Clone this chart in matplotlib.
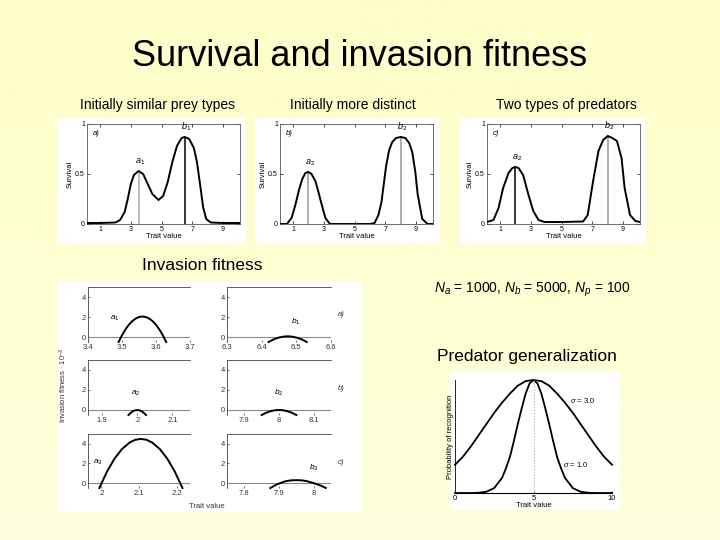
import numpy as np
import matplotlib
matplotlib.use("Agg")
import matplotlib.pyplot as plt
from matplotlib.patches import Rectangle

plt.rcParams['font.family'] = ['Liberation Sans', 'DejaVu Sans']
plt.rcParams['mathtext.fontset'] = 'custom'
plt.rcParams['mathtext.rm'] = 'Liberation Sans'
plt.rcParams['mathtext.it'] = 'Liberation Sans:italic'

W, H = 720, 540

# ---- survival curves ----
surv1_x = [0.15, 1, 2, 2.3, 2.6, 2.8, 3.0, 3.2, 3.5, 3.8, 4.1, 4.4, 4.8, 5.1, 5.4,
           5.7, 6.0, 6.3, 6.5, 6.8, 7.1, 7.3, 7.5, 7.7, 7.9, 8.2, 9, 10.1]
surv1_y = [0.01, 0.01, 0.015, 0.04, 0.12, 0.25, 0.40, 0.49, 0.53, 0.50, 0.40, 0.30,
           0.24, 0.28, 0.42, 0.62, 0.78, 0.86, 0.87, 0.85, 0.76, 0.62, 0.40, 0.17,
           0.05, 0.015, 0.01, 0.01]

surv2_x = [0.15, 0.6, 0.9, 1.15, 1.4, 1.6, 1.8, 2.0, 2.2, 2.45, 2.65, 2.8, 3.1, 3.4,
           4, 5, 6, 6.3, 6.55, 6.75, 7.05, 7.25, 7.45, 7.7, 8.0, 8.3, 8.55, 8.75,
           8.95, 9.1, 9.4, 9.75, 10.1]
surv2_y = [0.0, 0.0, 0.06, 0.19, 0.35, 0.45, 0.51, 0.52, 0.50, 0.43, 0.32, 0.23, 0.06,
           0.0, 0.0, 0.0, 0.0, 0.01, 0.09, 0.22, 0.58, 0.74, 0.82, 0.86, 0.87, 0.86,
           0.81, 0.72, 0.52, 0.30, 0.05, 0.0, 0.0]

surv3_x = [0.15, 0.57, 0.9, 1.2, 1.55, 1.8, 2.0, 2.2, 2.5, 2.85, 3.16, 3.5, 3.9, 5,
           6.4, 6.7, 7.05, 7.4, 7.7, 8.0, 8.3, 8.6, 8.9, 9.1, 9.45, 9.8, 10.1]
surv3_y = [0.02, 0.04, 0.16, 0.36, 0.51, 0.56, 0.57, 0.56, 0.49, 0.29, 0.13, 0.04,
           0.02, 0.02, 0.025, 0.09, 0.43, 0.73, 0.84, 0.88, 0.86, 0.83, 0.66, 0.36,
           0.09, 0.03, 0.02]

surv_peaks = [(3.5, 0.53, 6.5, 0.87), (2.0, 0.52, 8.0, 0.87), (2.0, 0.57, 8.0, 0.88)]
surv_tags = ['a)', 'b)', 'c)']
surv_names = [('a_1', 'b_1'), ('a_2', 'b_2'), ('a_2', 'b_2')]
surv_line_cols = [('#aaaaaa', 'black'), ('#999999', '#999999'), ('black', '#999999')]
headings = ['Initially similar prey types', 'Initially more distinct', 'Two types of predators']

# ---- invasion fitness (x 10^-3) ----
inv_a1_x = [3.49, 3.50, 3.51, 3.52, 3.53, 3.54, 3.55, 3.56, 3.57, 3.58, 3.59, 3.60, 3.61, 3.62, 3.63]
inv_a1_y = [-0.5, 0.18, 0.75, 1.22, 1.58, 1.84, 2.0, 2.05, 2.0, 1.84, 1.58, 1.22, 0.75, 0.18, -0.5]
inv_b1_x = [6.42, 6.435, 6.45, 6.465, 6.475, 6.485, 6.50, 6.515, 6.53]
inv_b1_y = [-0.5, -0.23, -0.05, 0.05, 0.07, 0.05, -0.05, -0.23, -0.5]
inv_a2_x = [1.975, 1.985, 1.993, 2.0, 2.007, 2.015, 2.025]
inv_a2_y = [-0.5, -0.18, -0.04, 0.0, -0.04, -0.18, -0.5]
inv_b2_x = [7.95, 7.965, 7.98, 7.99, 8.0, 8.01, 8.02, 8.035, 8.05]
inv_b2_y = [-0.5, -0.245, -0.08, -0.02, 0.0, -0.02, -0.08, -0.245, -0.5]
inv_a3_x = [1.995, 2.015, 2.035, 2.055, 2.075, 2.09, 2.105, 2.12, 2.135, 2.155, 2.175, 2.195, 2.215]
inv_a3_y = [-0.5, 1.15, 2.48, 3.47, 4.13, 4.41, 4.5, 4.41, 4.13, 3.47, 2.48, 1.15, -0.5]
inv_b3_x = [7.875, 7.89, 7.905, 7.92, 7.935, 7.95, 7.965, 7.98, 8.0, 8.02, 8.035]
inv_b3_y = [-0.5, -0.2, 0.02, 0.2, 0.28, 0.3, 0.28, 0.2, 0.0, -0.25, -0.5]

inv_curves = [[(inv_a1_x, inv_a1_y), (inv_b1_x, inv_b1_y)],
              [(inv_a2_x, inv_a2_y), (inv_b2_x, inv_b2_y)],
              [(inv_a3_x, inv_a3_y), (inv_b3_x, inv_b3_y)]]
inv_xlims = [[(3.4, 3.7), (6.3, 6.6)],
             [(1.86, 2.15), (7.85, 8.15)],
             [(1.965, 2.235), (7.75, 8.05)]]
inv_ticks = [[[3.4, 3.5, 3.6, 3.7], [6.3, 6.4, 6.5, 6.6]],
             [[1.9, 2.0, 2.1], [7.9, 8.0, 8.1]],
             [[2.0, 2.1, 2.2], [7.8, 7.9, 8.0]]]
inv_ticklabels = [[['3.4', '3.5', '3.6', '3.7'], ['6.3', '6.4', '6.5', '6.6']],
                  [['1.9', '2', '2.1'], ['7.9', '8', '8.1']],
                  [['2', '2.1', '2.2'], ['7.8', '7.9', '8']]]
inv_names = [[('a_1', 3.48, 1.4), ('b_1', 6.5, 1.0)],
             [('a_2', 1.997, 1.2), ('b_2', 8.0, 1.2)],
             [('a_3', 1.99, 1.6), ('b_3', 8.0, 1.0)]]
inv_tags = ['a)', 'b)', 'c)']

# ---- predator recognition ----
sig3_x = [0, 0.5, 1, 1.5, 2, 2.5, 3, 3.5, 4, 4.5, 5, 5.5, 6, 6.5, 7, 7.5, 8, 8.5, 9, 9.5, 10]
sig3_y = [0.25, 0.32, 0.41, 0.51, 0.61, 0.71, 0.80, 0.88, 0.95, 0.99, 1.0,
          0.99, 0.95, 0.88, 0.80, 0.71, 0.61, 0.51, 0.41, 0.32, 0.25]
sig1_x = [0, 1, 1.5, 2, 2.5, 3, 3.25, 3.5, 3.75, 4, 4.25, 4.5, 4.75, 5,
          5.25, 5.5, 5.75, 6, 6.25, 6.5, 6.75, 7, 7.5, 8, 8.5, 9, 10]
sig1_y = [0, 0, 0.002, 0.011, 0.044, 0.135, 0.22, 0.32, 0.46, 0.61, 0.75, 0.88, 0.97, 1.0,
          0.97, 0.88, 0.75, 0.61, 0.46, 0.32, 0.22, 0.135, 0.044, 0.011, 0.002, 0, 0]


def box(x0, y0, x1, y1):
    return [x0 / W, 1 - y1 / H, (x1 - x0) / W, (y1 - y0) / H]


fig = plt.figure(figsize=(7.2, 5.4), dpi=100)

# slide background
bg = fig.add_axes([0, 0, 1, 1], zorder=-3)
grad = np.linspace(0, 1, 256).reshape(-1, 1)
bg.imshow(grad, aspect='auto', cmap=matplotlib.colors.LinearSegmentedColormap.from_list(
    'slide', ['#fefec9', '#fefedd']), extent=[0, 1, 0, 1])
bg.axis('off')

for (x0, y0, x1, y1) in [(58, 118, 245, 243), (255, 118, 440, 243), (460, 118, 645, 243),
                         (58, 282, 362, 512), (450, 372, 620, 510)]:
    fig.add_artist(Rectangle((x0 / W, 1 - y1 / H), (x1 - x0) / W, (y1 - y0) / H,
                             transform=fig.transFigure, facecolor='white',
                             edgecolor='none', zorder=-2))

fig.text(360 / W, 1 - 57 / H, 'Survival and invasion fitness', fontsize=26,
         ha='center', va='center')

# survival panels
surv_data = [(surv1_x, surv1_y), (surv2_x, surv2_y), (surv3_x, surv3_y)]
left_edges = [87, 280, 487]
head_x = [158, 353, 566]
for i in range(3):
    fig.text(head_x[i] / W, 1 - 105 / H, headings[i], fontsize=10, ha='center', va='center')
    ax = fig.add_axes(box(left_edges[i], 124, left_edges[i] + 153, 224))
    xs, ys = surv_data[i]
    ax.plot(xs, ys, color='black', lw=1.4, zorder=3)
    ax_, ay, bx, by = surv_peaks[i]
    ax.plot([ax_, ax_], [0, ay], color=surv_line_cols[i][0], lw=1.1, zorder=2)
    ax.plot([bx, bx], [0, by], color=surv_line_cols[i][1], lw=1.1, zorder=2)
    ax.text(ax_ + 0.1, ay + 0.04, '$%s$' % surv_names[i][0], fontsize=6.5, ha='center', va='bottom')
    ax.text(bx + 0.1, by + 0.04, '$%s$' % surv_names[i][1], fontsize=6.5, ha='center', va='bottom')
    ax.text(0.04, 0.94, surv_tags[i], transform=ax.transAxes, fontsize=5.5,
            style='italic', ha='left', va='top')
    ax.set_xlim(0.15, 10.1)
    ax.set_ylim(0, 1)
    ax.set_xticks([1, 3, 5, 7, 9])
    ax.set_yticks([0, 0.5, 1])
    ax.set_yticklabels(['0', '0.5', '1'])
    ax.tick_params(labelsize=5, length=2, width=0.5, direction='in', top=True, right=True, pad=1.5)
    for s in ax.spines.values():
        s.set_linewidth(0.6)
        s.set_color('#555555')
    ax.set_xlabel('Trait value', fontsize=5.5, labelpad=0)
    ax.set_ylabel('Survival', fontsize=5.5, labelpad=1)

# invasion fitness
fig.text(202 / W, 1 - 265 / H, 'Invasion fitness', fontsize=12.5, ha='center', va='center')
rows = [(287, 342), (360, 415), (434, 488)]
cols = [(88, 190), (227, 331)]
for r in range(3):
    for c in range(2):
        ax = fig.add_axes(box(cols[c][0], rows[r][0], cols[c][1], rows[r][1]))
        xs, ys = inv_curves[r][c]
        ax.plot(xs, ys, color='black', lw=1.4, zorder=3, clip_on=False)
        ax.axhline(0, color='#888888', lw=0.8)
        name, nx, ny = inv_names[r][c]
        ax.text(nx, ny, '$%s$' % name, fontsize=6, ha='center', va='bottom')
        ax.set_xlim(*inv_xlims[r][c])
        ax.set_ylim(-0.5, 5)
        ax.set_yticks([0, 2, 4])
        ax.set_xticks(inv_ticks[r][c])
        ax.set_xticklabels(inv_ticklabels[r][c])
        ax.tick_params(labelsize=5.5, length=1.5, width=0.5, direction='in',
                       colors='#333333', pad=1.5)
        ax.spines['bottom'].set_visible(False)
        ax.spines['right'].set_visible(False)
        ax.spines['left'].set_linewidth(0.6)
        ax.spines['top'].set_linewidth(0.6)
        ax.spines['left'].set_color('#444444')
        ax.spines['top'].set_color('#444444')
    fig.text(338 / W, 1 - (rows[r][0] + 28) / H, inv_tags[r], fontsize=5.5,
             style='italic', ha='left', va='center', color='#333333')
fig.text(63 / W, 1 - 385 / H, r'Invasion fitness $\cdot$ 10$^{-3}$', fontsize=5.5,
         rotation=90, ha='center', va='center', color='#333333')
fig.text(207 / W, 1 - 506 / H, 'Trait value', fontsize=5.5, ha='center', va='center',
         color='#333333')

# population sizes
fig.text(532 / W, 1 - 290 / H, r'$N_a$ = 1000, $N_b$ = 5000, $N_p$ = 100',
         fontsize=10, ha='center', va='center')

# predator generalization
fig.text(527 / W, 1 - 356 / H, 'Predator generalization', fontsize=12.5,
         ha='center', va='center')
ax = fig.add_axes(box(455, 380, 612, 493))
ax.plot(sig3_x, sig3_y, color='black', lw=1.3, clip_on=False)
ax.plot(sig1_x, sig1_y, color='black', lw=1.3, clip_on=False)
ax.plot([5, 5], [0, 1], color='#aaaaaa', lw=0.8, linestyle=':')
ax.text(7.3, 0.82, r'$\sigma$ = 3.0', fontsize=5.5, ha='left', va='center')
ax.text(6.9, 0.25, r'$\sigma$ = 1.0', fontsize=5.5, ha='left', va='center')
ax.set_xlim(0, 10)
ax.set_ylim(0, 1)
ax.set_xticks([0, 5, 10])
ax.set_yticks([])
ax.tick_params(labelsize=5.5, length=1.5, width=0.5, direction='in', pad=1.5)
ax.spines['top'].set_visible(False)
ax.spines['right'].set_visible(False)
ax.spines['left'].set_linewidth(0.6)
ax.spines['bottom'].set_linewidth(0.8)
ax.set_xlabel('Trait value', fontsize=5.5, labelpad=0)
ax.set_ylabel('Probability of recognition', fontsize=5.5, labelpad=1)

fig.savefig('out.png', dpi=100)
